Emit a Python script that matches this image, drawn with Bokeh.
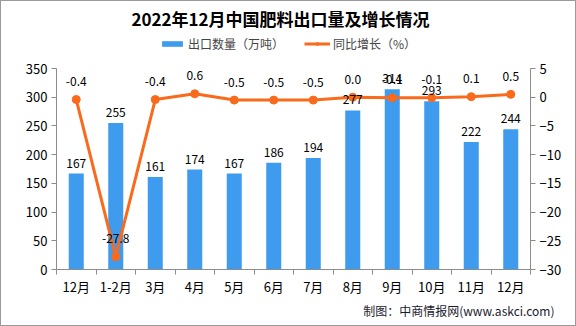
from bokeh.plotting import figure
from bokeh.models import (Range1d, LinearAxis, FixedTicker, ColumnDataSource, Title, Label,
                          Legend, LegendItem)
from bokeh.embed import file_html
from bokeh.resources import INLINE
from bokeh.core.properties import value

categories = ["12月", "1-2月", "3月", "4月", "5月", "6月", "7月", "8月", "9月", "10月", "11月", "12月"]
export_volume = [167, 255, 161, 174, 167, 186, 194, 277, 314, 293, 222, 244]
yoy_growth = [-0.4, -27.8, -0.4, 0.6, -0.5, -0.5, -0.5, 0.0, -0.1, -0.1, 0.1, 0.5]
left_ticks = [0, 50, 100, 150, 200, 250, 300, 350]
right_ticks = [-30, -25, -20, -15, -10, -5, 0, 5]

title_text = "2022年12月中国肥料出口量及增长情况"
bar_name = "出口数量（万吨）"
line_name = "同比增长（%）"
footer_text = "制图：中商情报网(www.askci.com)"

BAR = "#3E9BEE"
ORANGE = "#FA6A1C"
AXIS = "#8C8C8C"
FONT = "Noto Sans CJK SC"

# layout (pixels): the frame reaches the top of the canvas so that the title and
# legend can live inside it; the axes are bounded to the real value span.
W, H = 576, 326
FRAME_BOTTOM = 269          # y pixel of value 0
AXIS_TOP = 68               # y pixel of value 350 / 5
stretch = FRAME_BOTTOM / (FRAME_BOTTOM - AXIS_TOP)
left_lo, left_hi = left_ticks[0], left_ticks[-1]
right_lo, right_hi = right_ticks[0], right_ticks[-1]

xs = list(range(len(categories)))
src = ColumnDataSource(dict(
    x=xs, vol=export_volume, pct=yoy_growth,
    vol_txt=[str(v) for v in export_volume],
    pct_txt=[f"{v:.1f}" for v in yoy_growth],
))

p = figure(width=W, height=H, output_backend="svg", toolbar_location=None,
           x_range=Range1d(-0.5, len(categories) - 0.5),
           y_range=Range1d(left_lo, left_lo + (left_hi - left_lo) * stretch),
           min_border_left=56, min_border_right=46, min_border_top=0,
           min_border_bottom=H - FRAME_BOTTOM)
p.extra_y_ranges = {"pct": Range1d(right_lo, right_lo + (right_hi - right_lo) * stretch)}
p.outline_line_color = None
p.xgrid.visible = False
p.ygrid.visible = False
p.background_fill_alpha = 0
p.border_fill_alpha = 0
p.styles = {"box-shadow": "inset 0 0 0 1px #9a9a9a", "background-color": "white"}

bars = p.vbar(x="x", top="vol", width=0.38, source=src, fill_color=BAR, line_color=None)
line = p.line(x="x", y="pct", source=src, y_range_name="pct", line_color=ORANGE, line_width=3)
pts = p.scatter(x="x", y="pct", source=src, y_range_name="pct", size=8,
                fill_color=ORANGE, line_color=ORANGE)

p.text(x="x", y="vol", text="vol_txt", source=src, text_align="center", text_baseline="bottom",
       y_offset=-6, text_font=value(FONT), text_font_size="12px", text_color="black")
p.text(x="x", y="pct", text="pct_txt", source=src, y_range_name="pct", text_align="center",
       text_baseline="middle", y_offset=-18, text_font=value(FONT), text_font_size="12px",
       text_color="black")

def style_axis(ax):
    ax.axis_line_color = AXIS
    ax.major_tick_line_color = AXIS
    ax.minor_tick_line_color = None
    ax.major_tick_out = 5
    ax.major_tick_in = 0
    ax.major_label_text_font = FONT
    ax.major_label_text_font_size = "13px"
    ax.major_label_text_color = "black"
    ax.major_label_standoff = 4

yl = p.yaxis[0]
yl.ticker = FixedTicker(ticks=left_ticks)
yl.bounds = (left_lo, left_hi)
style_axis(yl)

yr = LinearAxis(y_range_name="pct", ticker=FixedTicker(ticks=right_ticks), bounds=(right_lo, right_hi))
style_axis(yr)
p.add_layout(yr, "right")

xa = p.xaxis[0]
xa.ticker = FixedTicker(ticks=xs, minor_ticks=[i - 0.5 for i in range(len(categories) + 1)])
style_axis(xa)
xa.major_tick_line_color = None
xa.minor_tick_line_color = AXIS
xa.minor_tick_out = 5
xa.minor_tick_in = 0
xa.major_label_standoff = 2
xa.major_label_overrides = {i: c for i, c in zip(xs, categories)}

p.add_layout(Label(x=224, y=FRAME_BOTTOM - 18, x_units="screen", y_units="screen", text=title_text,
                   text_align="center", text_baseline="middle", text_font=FONT,
                   text_font_style="bold", text_font_size="17px", text_color="black"))

legend = Legend(items=[LegendItem(label=bar_name, renderers=[bars]),
                       LegendItem(label=line_name, renderers=[line, pts])],
                orientation="horizontal", location=(103, FRAME_BOTTOM - 52),
                border_line_color=None, background_fill_alpha=0,
                label_text_font=FONT, label_text_font_size="12px",
                glyph_width=26, glyph_height=7, label_standoff=3, spacing=20,
                padding=0, margin=0, label_height=16)
p.add_layout(legend)

p.add_layout(Title(text=footer_text, align="right", offset=-24, standoff=2,
                   text_font=FONT, text_font_style="normal", text_font_size="12px",
                   text_color="#1a1a2e"), "below")

open("out.html", "w").write(file_html(p, INLINE))
